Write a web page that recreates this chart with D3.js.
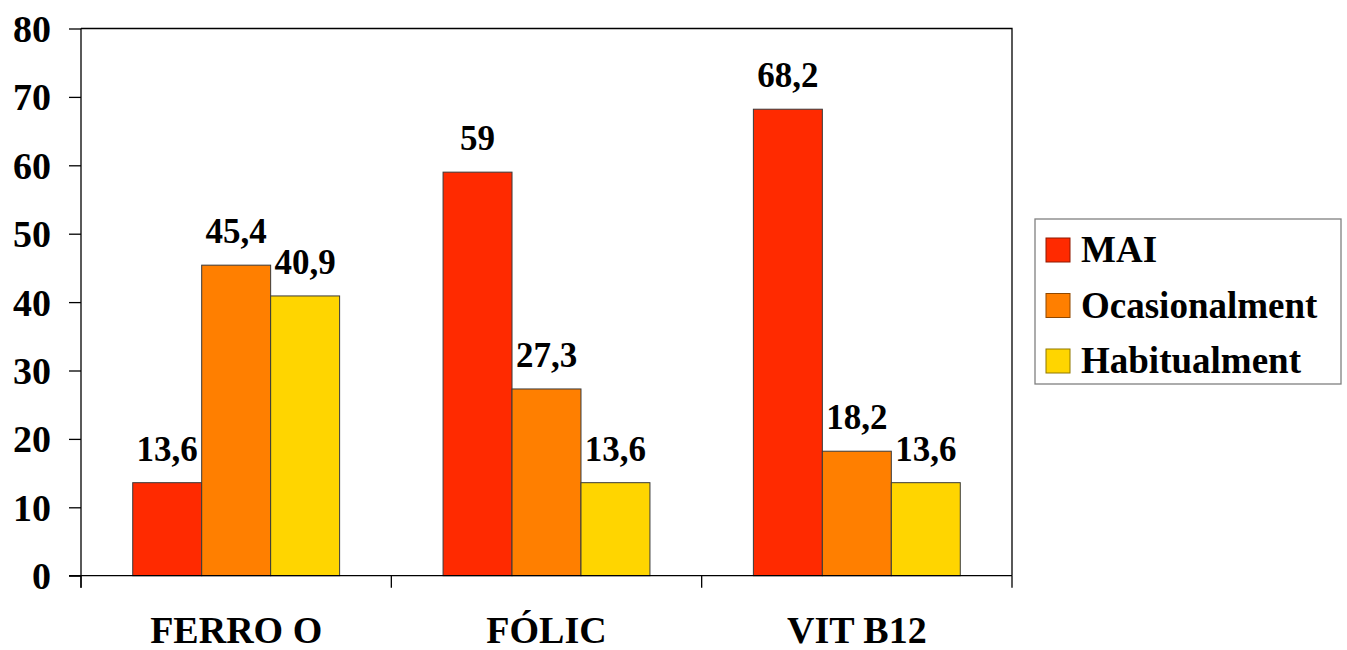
<!DOCTYPE html>
<html>
<head>
<meta charset="utf-8">
<script src="https://cdn.jsdelivr.net/npm/d3@7"></script>
</head>
<body style="margin:0">
<svg id="chart" width="1347" height="650"></svg>
<script>
const categories = ["FERRO O", "FÓLIC", "VIT B12"];
const seriesNames = ["MAI", "Ocasionalment", "Habitualment"];
const seriesColors = ["#ff2a00", "#ff7f00", "#ffd500"];
const valuesMAI = [13.6, 59, 68.2];
const valuesOcasionalment = [45.4, 27.3, 18.2];
const valuesHabitualment = [40.9, 13.6, 13.6];
const yTicks = [0, 10, 20, 30, 40, 50, 60, 70, 80];

const seriesValues = [valuesMAI, valuesOcasionalment, valuesHabitualment];
const FONT = "'Times New Roman', 'Liberation Serif', Tinos, serif";

const svg = d3.select("#chart");
const plotLeft = 81, plotRight = 1012, plotTop = 28.5, plotBottom = 575.7;

const x0 = d3.scaleBand().domain(categories).range([plotLeft, plotRight]).paddingInner(0).paddingOuter(0);
const x1 = d3.scaleBand().domain(seriesNames).range([0, x0.bandwidth()]).paddingInner(0).paddingOuter(0.75);
const y = d3.scaleLinear().domain([0, 80]).range([plotBottom, plotTop]);

function styleText(sel, size) {
  sel.attr("font-family", FONT)
     .style("font-family", FONT)
     .attr("font-weight", "bold")
     .attr("font-size", size)
     .attr("fill", "#000");
}

// plot frame (top and right)
svg.append("path")
  .attr("d", `M${plotLeft},${plotTop}H${plotRight}V${plotBottom}`)
  .attr("fill", "none").attr("stroke", "#000").attr("stroke-width", 1.3);

// bars
const data = [];
categories.forEach((c, i) => {
  seriesNames.forEach((s, j) => {
    data.push({ cat: c, ser: s, val: seriesValues[j][i], color: seriesColors[j] });
  });
});

const g = svg.append("g");
g.selectAll("rect").data(data).enter().append("rect")
  .attr("x", d => x0(d.cat) + x1(d.ser))
  .attr("y", d => y(d.val))
  .attr("width", x1.bandwidth())
  .attr("height", d => y(0) - y(d.val))
  .attr("fill", d => d.color)
  .attr("stroke", "#3a3a3a")
  .attr("stroke-width", 1);

// value labels
const fmt = v => String(v).replace(".", ",");
g.selectAll("text.val").data(data).enter().append("text")
  .attr("class", "val")
  .attr("x", d => x0(d.cat) + x1(d.ser) + x1.bandwidth() / 2)
  .attr("y", d => y(d.val) - 22)
  .attr("text-anchor", "middle")
  .call(styleText, 35)
  .text(d => fmt(d.val));

// y axis
const yAxis = d3.axisLeft(y).tickValues(yTicks).tickSize(12).tickPadding(18).tickFormat(d3.format("d"));
const ya = svg.append("g").attr("transform", `translate(${plotLeft},0)`).call(yAxis);
ya.attr("font-family", FONT);
ya.select(".domain").attr("stroke", "#000").attr("stroke-width", 1.3)
  .attr("d", `M0,${plotTop}V${plotBottom + 12}`);
ya.selectAll(".tick line").attr("stroke", "#000").attr("stroke-width", 1.3);
ya.selectAll(".tick text").call(styleText, 38).attr("dy", "0.34em");

// x axis
const xa = svg.append("g").attr("transform", `translate(0,${plotBottom})`);
xa.append("line").attr("x1", plotLeft - 12).attr("x2", plotRight).attr("y1", 0).attr("y2", 0)
  .attr("stroke", "#000").attr("stroke-width", 1.3);
const boundaries = categories.map(c => x0(c)).concat([x0(categories[categories.length - 1]) + x0.bandwidth()]);
xa.selectAll("line.bt").data(boundaries).enter().append("line")
  .attr("class", "bt")
  .attr("x1", d => d).attr("x2", d => d).attr("y1", 0).attr("y2", 12)
  .attr("stroke", "#000").attr("stroke-width", 1.3);
xa.selectAll("text.cat").data(categories).enter().append("text")
  .attr("class", "cat")
  .attr("x", d => x0(d) + x0.bandwidth() / 2)
  .attr("y", 643 - plotBottom)
  .attr("text-anchor", "middle")
  .call(styleText, 38)
  .text(d => d);

// legend
const lg = svg.append("g");
lg.append("rect").attr("x", 1035).attr("y", 219).attr("width", 306).attr("height", 165)
  .attr("fill", "#fff").attr("stroke", "#808080").attr("stroke-width", 1.3);
const li = lg.selectAll("g.li").data(seriesNames).enter().append("g")
  .attr("class", "li")
  .attr("transform", (d, i) => `translate(1046,${238 + i * 55.5})`);
li.append("rect").attr("width", 24).attr("height", 24)
  .attr("fill", (d, i) => seriesColors[i])
  .attr("stroke", (d, i) => d3.color(seriesColors[i]).darker(1.6))
  .attr("stroke-width", 1);
li.append("text").attr("x", 35).attr("y", 24).call(styleText, 37).text(d => d);
</script>
</body>
</html>
